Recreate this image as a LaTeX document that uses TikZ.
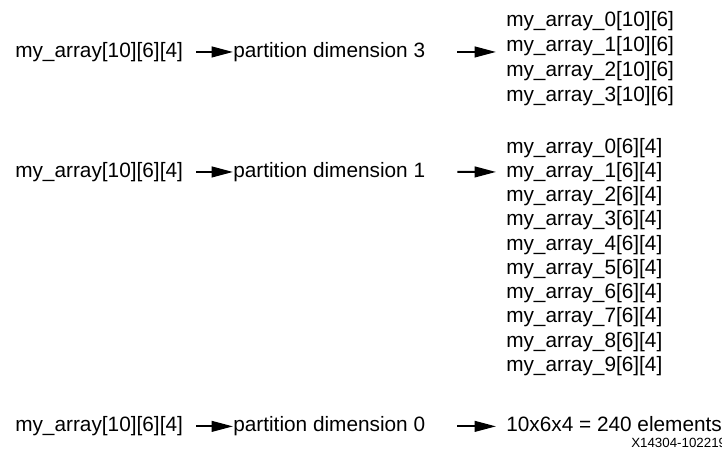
\documentclass[tikz,border=0pt]{standalone}
\usepackage{fontspec}
\setmainfont{Liberation Sans}
\usetikzlibrary{arrows.meta,positioning}

\begin{document}
\begin{tikzpicture}[
      x=0.75pt, y=-0.75pt,
      txt/.style={inner sep=0pt, anchor=base west, text height=10pt, text depth=2pt,
                  font=\fontsize{15.6}{18}\selectfont},
      tag/.style={inner sep=0pt, anchor=base west, font=\fontsize{10}{12}\selectfont},
      arr/.style={-{Triangle[length=16pt,width=8pt]}, line width=1.5pt},
      node distance=5.8pt
    ]
      \useasboundingbox (0,0) rectangle (722,457);

      % dimension 3
      \node[txt] (srcA) at (15,57.3) {my\_array[10][6][4]};
      \node[txt] (partA) at (233,57.3) {partition dimension 3};
      \node[txt] (outA0) at (506,26.7) {my\_array\_0[10][6]};
      \node[txt, below=6.3pt of outA0] (outA1) {my\_array\_1[10][6]};
      \node[txt, below=6.3pt of outA1] (outA2) {my\_array\_2[10][6]};
      \node[txt, below=6.3pt of outA2] (outA3) {my\_array\_3[10][6]};

      \draw[arr, shorten <=9.75pt] (srcA) -- (partA);
      \draw[arr, shorten <=24pt, shorten >=7.5pt] (partA) -- (partA -| outA1.west);

      % dimension 1
      \node[txt] (srcB) at (15,177.3) {my\_array[10][6][4]};
      \node[txt] (partB) at (233,177.3) {partition dimension 1};
      \node[txt] (outB0) at (506,153) {my\_array\_0[6][4]};
      \node[txt, below=of outB0] (outB1) {my\_array\_1[6][4]};
      \node[txt, below=of outB1] (outB2) {my\_array\_2[6][4]};
      \node[txt, below=of outB2] (outB3) {my\_array\_3[6][4]};
      \node[txt, below=of outB3] (outB4) {my\_array\_4[6][4]};
      \node[txt, below=of outB4] (outB5) {my\_array\_5[6][4]};
      \node[txt, below=of outB5] (outB6) {my\_array\_6[6][4]};
      \node[txt, below=of outB6] (outB7) {my\_array\_7[6][4]};
      \node[txt, below=of outB7] (outB8) {my\_array\_8[6][4]};
      \node[txt, below=of outB8] (outB9) {my\_array\_9[6][4]};

      \draw[arr, shorten <=9.75pt] (srcB) -- (partB);
      \draw[arr, shorten <=24pt, shorten >=7.5pt] (partB) -- (outB1);

      % dimension 0
      \node[txt] (srcC) at (15,431.7) {my\_array[10][6][4]};
      \node[txt] (partC) at (233,431.7) {partition dimension 0};
      \node[txt] (outC) at (506,431.7) {10x6x4 = 240 elements};

      \draw[arr, shorten <=9.75pt] (srcC) -- (partC);
      \draw[arr, shorten <=24pt, shorten >=7.5pt] (partC) -- (outC);

      \node[tag] (figid) at (631,447) {X14304-102219};
\end{tikzpicture}
\end{document}
